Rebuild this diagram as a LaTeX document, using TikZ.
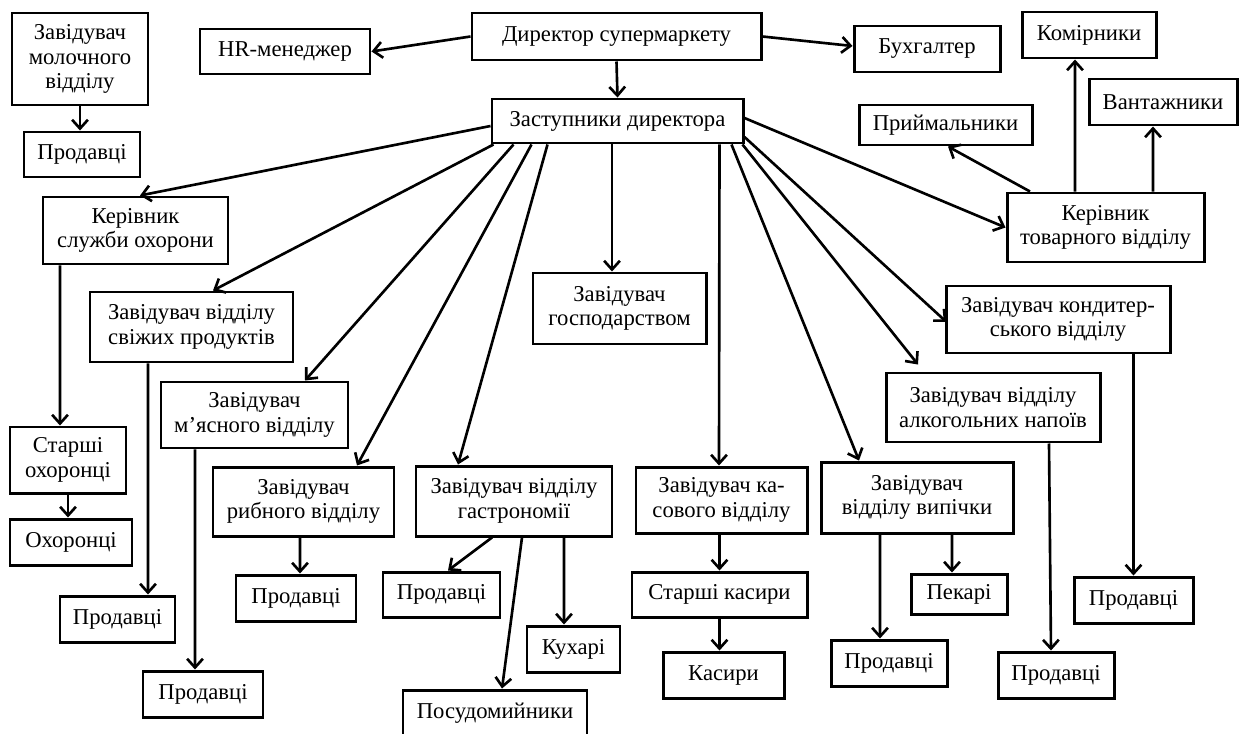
\documentclass[tikz,border=0pt]{standalone}
\usepackage{fontspec}
\setmainfont{Liberation Serif}
\usetikzlibrary{arrows.meta}

\begin{document}
\begin{tikzpicture}[x=0.2mm, y=0.2mm, sz/.style 2 args={minimum width=#1*0.2mm, minimum height=#2*0.2mm}]
\tikzstyle{every node}+=[inner sep=0pt]
\tikzstyle{box}=[draw=black, line width=1.7pt, align=center, font=\fontsize{12.9}{14}\selectfont]
\tikzstyle{ar}=[black, line width=1.5pt, -{Straight Barb[length=5pt,width=9pt]}]
\useasboundingbox (0,0) rectangle (1241,-734);
% top row
\node[box, sz={289}{47}] (dir) at (616.5,-36.5) {Директор супермаркету};
\node[box, sz={251}{44}] (zast) at (617.5,-121) {Заступники директора};
\node[box, sz={170}{45}] (hr) at (285,-51.5) {HR-менеджер};
\node[box, sz={146}{46}] (buh) at (927,-49) {Бухгалтер};
\node[box, sz={136}{92}] (mol) at (80,-59) {Завідувач\\молочного\\відділу};
\node[box, sz={116}{45}] (pmol) at (82,-154.5) {Продавці};
\node[box, sz={134}{46}] (kom) at (1089,-35) {Комірники};
\node[box, sz={148}{46}] (vant) at (1163,-102) {Вантажники};
\node[box, sz={173}{40}] (pryi) at (945.5,-125) {Приймальники};
\node[box, sz={197}{69}] (tov) at (1105.5,-227.5) {Керівник\\товарного відділу};
% left side
\node[box, sz={185}{67}] (okh) at (135.5,-230.5) {Керівник\\служби охорони};
\node[box, sz={116}{66}] (stokh) at (68,-460) {Старші\\охоронці};
\node[box, sz={122}{46}] (okhor) at (71,-542) {Охоронці};
\node[box, sz={203}{70}] (sviz) at (191.5,-327) {Завідувач відділу\\свіжих продуктів};
\node[box, sz={115}{46}] (psviz) at (117.5,-619) {Продавці};
\node[box, sz={187}{66}] (myas) at (254.5,-415) {Завідувач\\м’ясного відділу};
\node[box, sz={120}{46}] (pmyas) at (203,-694) {Продавці};
\node[box, sz={181}{69}] (rib) at (303.5,-501.5) {Завідувач\\рибного відділу};
\node[box, sz={120}{46}] (prib) at (296,-598) {Продавці};
% middle
\node[box, sz={173}{71}] (hosp) at (619.5,-308.5) {Завідувач\\господарством};
\node[box, sz={196}{70}] (hastr) at (514,-501) {Завідувач відділу\\гастрономії};
\node[box, sz={117}{45}] (phastr) at (441.5,-594.5) {Продавці};
\node[box, sz={184}{47}] (posud) at (495,-713.5) {Посудомийники};
\node[box, sz={93}{46}] (kuh) at (573.5,-649) {Кухарі};
\node[box, sz={171}{66}] (kas) at (721.5,-500) {Завідувач ка-\\сового відділу};
\node[box, sz={175}{45}] (stkas) at (719.5,-594.5) {Старші касири};
\node[box, sz={121}{46}] (kasy) at (723.5,-675) {Касири};
% right side
\node[box, sz={224}{67}] (kond) at (1058,-319.5) {Завідувач кондитер-\\ського відділу};
\node[box, sz={119}{46}] (pkond) at (1133.5,-600) {Продавці};
\node[box, sz={214}{69}] (alk) at (993,-407.5) {Завідувач відділу\\алкогольних напоїв};
\node[box, sz={116}{46}] (palk) at (1056,-675) {Продавці};
\node[box, sz={192}{71}] (vyp) at (917,-497.5) {Завідувач\\відділу випічки};
\node[box, sz={116}{46}] (pvyp) at (889,-663) {Продавці};
\node[box, sz={96}{40}] (pek) at (959,-594) {Пекарі};
% director
\draw[ar] (dir.west) -- (hr.east);
\draw[ar] (dir.east) -- ([yshift=0.6mm]buh.west);
\draw[ar] (dir.south) -- (zast.north);
% deputies
\draw[ar] ([yshift=-1mm]zast.west) -- ([xshift=0.9mm]okh.north);
\draw[ar] ([xshift=0.6mm]zast.south west) -- ([xshift=4.3mm]sviz.north);
\draw[ar] ([xshift=4.6mm]zast.south west) -- ([xshift=10.1mm]myas.north);
\draw[ar] ([xshift=8.2mm]zast.south west) -- ([xshift=10.7mm]rib.north);
\draw[ar] ([xshift=11.4mm]zast.south west) -- ([xshift=-11.2mm]hastr.north);
\draw[ar] ([xshift=-1.1mm]zast.south) -- ([xshift=-1.5mm]hosp.north);
\draw[ar] ([xshift=-5mm]zast.south east) -- ([xshift=-0.5mm]kas.north);
\draw[ar] ([xshift=-2.6mm]zast.south east) -- ([xshift=-11.6mm]vyp.north);
\draw[ar] ([xshift=-0.4mm]zast.south east) -- ([xshift=-15mm,yshift=1.4mm]alk.north);
\draw[ar] ([yshift=-3.2mm]zast.east) -- ([xshift=0.4mm,yshift=-0.5mm]kond.west);
\draw[ar] ([yshift=0.6mm]zast.east) -- (tov.west);
% sub-units
\draw[ar] (mol.south) -- (mol.south |- pmol.north);
\draw[ar] ([xshift=-15.1mm]okh.south) -- ([xshift=-1.6mm]stokh.north);
\draw[ar] (stokh.south) -- (stokh.south |- okhor.north);
\draw[ar] ([xshift=-8.7mm]sviz.south) -- ([xshift=6.1mm]psviz.north);
\draw[ar] ([xshift=-11.9mm]myas.south) -- ([xshift=-1.6mm]pmyas.north);
\draw[ar] ([xshift=-0.7mm]rib.south) -- ([xshift=0.8mm]prib.north);
\draw[ar] ([xshift=-4.4mm]hastr.south) -- ([xshift=1.3mm]phastr.north);
\draw[ar] ([xshift=1.6mm]hastr.south) -- ([xshift=1.4mm]posud.north);
\draw[ar] ([xshift=10mm]hastr.south) -- ([xshift=-1.9mm]kuh.north);
\draw[ar] ([xshift=-0.4mm]kas.south) -- (stkas.north);
\draw[ar] (stkas.south) -- (stkas.south |- kasy.north);
\draw[ar] ([xshift=-7.4mm]vyp.south) -- ([xshift=-1.8mm]pvyp.north);
\draw[ar] ([xshift=7mm]vyp.south) -- ([xshift=-1.4mm]pek.north);
\draw[ar] ([xshift=11.2mm]alk.south) -- ([xshift=-1mm]palk.north);
\draw[ar] (kond.south -| pkond) -- (pkond.north);
\draw[ar] ([xshift=-6.1mm]tov.north) -- ([xshift=-2.8mm]kom.south);
\draw[ar] ([xshift=9.5mm]tov.north) -- ([xshift=-2mm]vant.south);
\draw[ar] ([xshift=-15.1mm]tov.north) -- ([xshift=0.5mm]pryi.south);
\end{tikzpicture}
\end{document}
